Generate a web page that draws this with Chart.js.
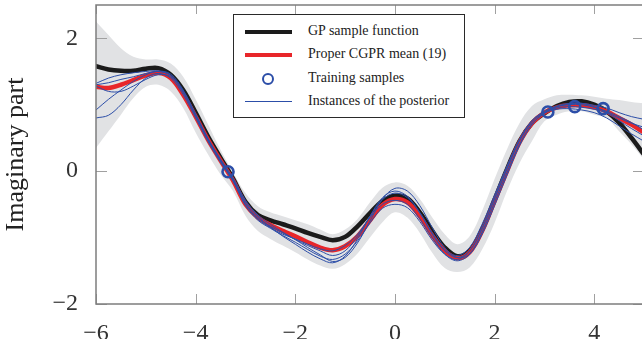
<!DOCTYPE html>
<html>
<head>
<meta charset="utf-8">
<script src="https://cdn.jsdelivr.net/npm/chart.js@4.4.1/dist/chart.umd.min.js"></script>
<style>
  html, body { margin: 0; padding: 0; background: #fff; overflow: hidden; }
  #wrap { position: relative; width: 646px; height: 339px; }
  #legend {
    position: absolute; left: 233px; top: 14px; width: 230px; height: 102px;
    border: 1.3px solid #2a2a2a; background: #fff;
    font-family: "Liberation Serif", "Times New Roman", serif; font-size: 14px; color: #222;
  }
  .row { position: absolute; left: 0; height: 20px; width: 100%; }
  .row span { position: absolute; left: 74px; top: 1px; white-space: nowrap; }
  .sw { position: absolute; left: 11px; width: 47px; }
  .circ { position: absolute; left: 28px; top: 4px; width: 8px; height: 8px; border: 2.6px solid #2c4ea8; border-radius: 50%; }
</style>
</head>
<body>
<div id="wrap">
  <canvas id="chart" width="646" height="339"></canvas>
  <div id="legend">
    <div class="row" style="top:7px"><div class="sw" style="top:8px;height:4px;background:#1b1b1b"></div><span>GP sample function</span></div>
    <div class="row" style="top:30px"><div class="sw" style="top:8px;height:4px;background:#e8262a"></div><span>Proper CGPR mean (19)</span></div>
    <div class="row" style="top:54px"><div class="circ"></div><span>Training samples</span></div>
    <div class="row" style="top:77px"><div class="sw" style="top:9px;height:1.2px;background:#2c4ea8"></div><span>Instances of the posterior</span></div>
  </div>
</div>
<script>
// grille des abscisses (pas 0.25)
const xs = [-6, -5.75, -5.5, -5.25, -5, -4.75, -4.5, -4.25, -4, -3.75, -3.5, -3.25, -3, -2.75, -2.5, -2.25,
  -2, -1.75, -1.5, -1.25, -1, -0.75, -0.5, -0.25, 0, 0.25, 0.5, 0.75, 1, 1.25, 1.5, 1.75,
  2, 2.25, 2.5, 2.75, 3, 3.25, 3.5, 3.75, 4, 4.25, 4.5, 4.75, 5];

const gpSample = [1.58, 1.53, 1.51, 1.51, 1.54, 1.55, 1.45, 1.22, 0.88, 0.52, 0.2, -0.11, -0.46, -0.66, -0.74, -0.8,
  -0.86, -0.93, -0.99, -1.04, -0.99, -0.83, -0.63, -0.45, -0.37, -0.41, -0.62, -0.9, -1.15, -1.28, -1.2, -0.88,
  -0.43, 0.03, 0.45, 0.72, 0.87, 0.98, 1.04, 1.05, 1.0, 0.9, 0.73, 0.5, 0.25];

const cgprMean = [1.27, 1.25, 1.3, 1.37, 1.44, 1.48, 1.4, 1.15, 0.82, 0.47, 0.16, -0.14, -0.5, -0.7, -0.81, -0.9,
  -0.98, -1.07, -1.15, -1.19, -1.13, -0.98, -0.74, -0.51, -0.42, -0.47, -0.68, -0.97, -1.2, -1.31, -1.22, -0.9,
  -0.45, 0.0, 0.43, 0.72, 0.88, 0.96, 0.99, 0.99, 0.96, 0.9, 0.8, 0.7, 0.58];

const bandUpper = [2.25, 2.05, 1.85, 1.72, 1.68, 1.68, 1.62, 1.42, 1.08, 0.7, 0.32, -0.02, -0.33, -0.53, -0.62, -0.68,
  -0.74, -0.8, -0.88, -0.95, -0.88, -0.72, -0.47, -0.25, -0.17, -0.22, -0.42, -0.7, -0.95, -1.1, -0.98, -0.6,
  -0.12, 0.33, 0.72, 0.98, 1.08, 1.14, 1.15, 1.14, 1.12, 1.09, 1.07, 1.04, 1.02];

const bandLower = [0.35, 0.6, 0.85, 1.1, 1.27, 1.3, 1.2, 0.95, 0.58, 0.25, -0.05, -0.3, -0.67, -0.9, -1.02, -1.12,
  -1.22, -1.33, -1.42, -1.47, -1.4, -1.24, -1.0, -0.77, -0.62, -0.7, -0.93, -1.23, -1.46, -1.52, -1.45, -1.18,
  -0.78, -0.3, 0.12, 0.45, 0.75, 0.85, 0.9, 0.9, 0.85, 0.8, 0.6, 0.4, 0.17];

// instances du posterior
const post1 = [0.8, 0.84, 1.0, 1.22, 1.4, 1.47, 1.4, 1.15, 0.8, 0.44, 0.13, -0.15, -0.52, -0.74, -0.86, -0.97,
  -1.07, -1.18, -1.28, -1.33, -1.25, -1.05, -0.78, -0.56, -0.5, -0.55, -0.76, -1.04, -1.25, -1.33, -1.2, -0.85,
  -0.4, 0.05, 0.47, 0.75, 0.88, 0.95, 0.97, 0.96, 0.93, 0.88, 0.8, 0.72, 0.66];
const post2 = [0.92, 1.08, 1.22, 1.35, 1.45, 1.5, 1.44, 1.2, 0.85, 0.48, 0.17, -0.12, -0.45, -0.66, -0.8, -0.92,
  -1.03, -1.15, -1.26, -1.36, -1.3, -1.08, -0.75, -0.42, -0.26, -0.3, -0.52, -0.85, -1.15, -1.3, -1.25, -0.95,
  -0.52, -0.06, 0.38, 0.7, 0.87, 0.97, 1.01, 1.02, 0.99, 0.95, 0.88, 0.82, 0.78];
const post3 = [1.32, 1.4, 1.45, 1.48, 1.5, 1.51, 1.46, 1.22, 0.86, 0.49, 0.18, -0.1, -0.44, -0.68, -0.84, -0.98,
  -1.1, -1.22, -1.32, -1.38, -1.28, -1.02, -0.68, -0.4, -0.3, -0.38, -0.62, -0.93, -1.18, -1.27, -1.15, -0.8,
  -0.36, 0.08, 0.48, 0.76, 0.9, 0.98, 1.02, 1.02, 0.97, 0.88, 0.76, 0.64, 0.53];
const post4 = [1.28, 1.2, 1.2, 1.28, 1.38, 1.45, 1.42, 1.18, 0.83, 0.47, 0.15, -0.14, -0.5, -0.72, -0.85, -0.95,
  -1.02, -1.1, -1.17, -1.2, -1.12, -0.95, -0.7, -0.5, -0.44, -0.5, -0.72, -1.0, -1.25, -1.35, -1.25, -0.92,
  -0.47, -0.02, 0.4, 0.7, 0.87, 0.93, 0.94, 0.92, 0.88, 0.8, 0.68, 0.56, 0.45];
const post5 = [1.3, 1.33, 1.38, 1.42, 1.47, 1.5, 1.44, 1.2, 0.84, 0.47, 0.15, -0.14, -0.48, -0.7, -0.83, -0.93,
  -1.03, -1.12, -1.2, -1.27, -1.2, -0.98, -0.68, -0.43, -0.33, -0.4, -0.63, -0.95, -1.2, -1.3, -1.2, -0.87,
  -0.42, 0.03, 0.45, 0.73, 0.89, 0.97, 1.0, 1.0, 0.96, 0.9, 0.82, 0.73, 0.62];

// échantillons d'apprentissage
const trainX = [-3.35, 3.07, 3.61, 4.18];
const trainY = [-0.01, 0.89, 0.97, 0.94];

const xTicks = [-6, -4, -2, 0, 2, 4];
const yTicks = [-2, 0, 2];

const pts = arr => arr.map((v, i) => ({ x: xs[i], y: v }));
const fmt = v => (v < 0 ? '\u2212' + Math.abs(v) : String(v));

const FRAME = '#7d7d7d';
const TICK = '#a0a0a0';

// cadre + graduations vers l'intérieur
const framePlugin = {
  id: 'frame',
  afterDatasetsDraw(chart) {
    const { ctx, chartArea: a, scales } = chart;
    ctx.save();
    ctx.strokeStyle = TICK;
    ctx.lineWidth = 1;
    xTicks.forEach(t => {
      const px = Math.round(scales.x.getPixelForValue(t)) + 0.5;
      ctx.beginPath();
      ctx.moveTo(px, a.bottom); ctx.lineTo(px, a.bottom - 10);
      ctx.moveTo(px, a.top); ctx.lineTo(px, a.top + 9);
      ctx.stroke();
    });
    yTicks.forEach(t => {
      const py = Math.round(scales.y.getPixelForValue(t)) + 0.5;
      ctx.beginPath();
      ctx.moveTo(a.left, py); ctx.lineTo(a.left + 11, py);
      ctx.moveTo(a.right, py); ctx.lineTo(a.right - 11, py);
      ctx.stroke();
    });
    ctx.strokeStyle = FRAME;
    ctx.lineWidth = 1.5;
    ctx.strokeRect(a.left, a.top, a.right - a.left, a.bottom - a.top);
    ctx.restore();
  }
};

// pas de marge automatique autour des axes
const noPad = s => { s.paddingTop = 0; s.paddingBottom = 0; s.paddingLeft = 0; s.paddingRight = 0; };

const serif = '"Liberation Serif", "Times New Roman", serif';

new Chart(document.getElementById('chart'), {
  type: 'line',
  data: {
    datasets: [
      {
        label: 'Training samples',
        data: trainX.map((x, i) => ({ x: x, y: trainY[i] })),
        showLine: false,
        pointRadius: 5.5,
        pointHoverRadius: 5.5,
        pointBorderWidth: 2.6,
        pointBorderColor: '#2c4ea8',
        pointBackgroundColor: 'rgba(0,0,0,0)'
      },
      { label: 'post1', data: pts(post1), borderColor: '#2c4ea8', borderWidth: 1, pointRadius: 0 },
      { label: 'post2', data: pts(post2), borderColor: '#2c4ea8', borderWidth: 1, pointRadius: 0 },
      { label: 'post3', data: pts(post3), borderColor: '#2c4ea8', borderWidth: 1, pointRadius: 0 },
      { label: 'post4', data: pts(post4), borderColor: '#2c4ea8', borderWidth: 1, pointRadius: 0 },
      { label: 'post5', data: pts(post5), borderColor: '#2c4ea8', borderWidth: 1, pointRadius: 0 },
      { label: 'Proper CGPR mean (19)', data: pts(cgprMean), borderColor: '#e8262a', borderWidth: 4.5, pointRadius: 0 },
      { label: 'GP sample function', data: pts(gpSample), borderColor: '#1b1b1b', borderWidth: 4.5, pointRadius: 0 },
      { label: 'upper', data: pts(bandUpper), borderWidth: 0, pointRadius: 0, fill: '+1', backgroundColor: '#e1e2e4' },
      { label: 'lower', data: pts(bandLower), borderWidth: 0, pointRadius: 0, fill: false }
    ]
  },
  options: {
    responsive: false,
    animation: false,
    devicePixelRatio: 1,
    layout: { autoPadding: false, padding: { top: 5, right: 2, left: 0, bottom: 0 } },
    elements: { line: { tension: 0.35, borderCapStyle: 'round', borderJoinStyle: 'round' } },
    plugins: { legend: { display: false }, tooltip: { enabled: false } },
    scales: {
      x: {
        type: 'linear', min: -6, max: 5,
        afterBuildTicks: s => { s.ticks = xTicks.map(v => ({ value: v })); },
        afterFit: s => { s.height = 35; noPad(s); },
        grid: { display: false },
        border: { display: false },
        ticks: { font: { family: serif, size: 24 }, color: '#333', padding: 7, maxRotation: 0, callback: fmt }
      },
      y: {
        type: 'linear', min: -2, max: 2.5,
        afterBuildTicks: s => { s.ticks = yTicks.map(v => ({ value: v })); },
        afterFit: s => { s.width = 96; noPad(s); },
        grid: { display: false },
        border: { display: false },
        title: { display: true, text: 'Imaginary part', font: { family: serif, size: 26 }, color: '#222', padding: { top: 1, bottom: 0 } },
        ticks: { font: { family: serif, size: 24 }, color: '#333', padding: 10, callback: fmt }
      }
    }
  },
  plugins: [framePlugin]
});
</script>
</body>
</html>
